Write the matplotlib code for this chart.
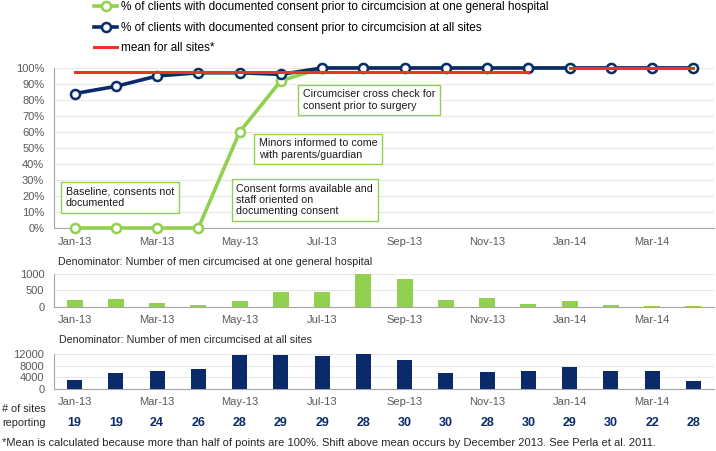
import matplotlib
matplotlib.use("Agg")
import matplotlib.pyplot as plt
from matplotlib.lines import Line2D
from matplotlib.transforms import blended_transform_factory

plt.rcParams['font.family'] = ['Liberation Sans', 'DejaVu Sans']

months = ["Jan-13", "Feb-13", "Mar-13", "Apr-13", "May-13", "Jun-13", "Jul-13", "Aug-13",
          "Sep-13", "Oct-13", "Nov-13", "Dec-13", "Jan-14", "Feb-14", "Mar-14", "Apr-14"]
hospital_pct = [0, 0, 0, 0, 60, 92, 100, 100, 100, 100, 100, 100, 100, 100, 100, 100]
all_sites_pct = [84, 88.5, 95, 97, 97, 96, 100, 100, 100, 100, 100, 100, 100, 100, 100, 100]
mean_first = 97.5   # Jan-13 .. Dec-13
mean_second = 100   # Jan-14 .. Apr-14
hospital_n = [210, 240, 110, 50, 175, 465, 450, 1010, 850, 210, 270, 90, 175, 50, 40, 20]
all_sites_n = [3200, 5600, 6300, 7000, 11500, 11600, 11200, 12000, 10000, 5600, 5800, 6000,
               7600, 6000, 6200, 2900]
sites_reporting = [19, 19, 24, 26, 28, 29, 29, 28, 30, 30, 28, 30, 29, 30, 22, 28]

GREEN = "#92D050"
NAVY = "#0B2A6A"
RED = "#EE3224"
GRAY = "#595959"
GRID = "#E8E8E8"
SPINE = "#A6A6A6"

x = list(range(len(months)))
tick_pos = x[::2]
tick_lab = months[::2]

fig = plt.figure(figsize=(7.16, 4.51), dpi=100)
ax1 = fig.add_axes([0.0754, 0.4945, 0.9218, 0.3548])
ax2 = fig.add_axes([0.0754, 0.3193, 0.9218, 0.0732])
ax3 = fig.add_axes([0.0754, 0.1375, 0.9218, 0.0776])


def style(ax, xpad):
    ax.set_xlim(-0.5, 15.5)
    for s in ["top", "right"]:
        ax.spines[s].set_visible(False)
    ax.spines["left"].set_color(SPINE)
    ax.spines["bottom"].set_color(SPINE)
    ax.tick_params(axis="both", length=0, labelsize=8, labelcolor=GRAY)
    ax.tick_params(axis="y", pad=7)
    ax.tick_params(axis="x", pad=xpad)
    ax.set_xticks(tick_pos)
    ax.set_xticklabels(tick_lab)
    ax.yaxis.grid(True, color=GRID, lw=0.8)
    ax.set_axisbelow(True)


# top chart
style(ax1, 6.5)
ax1.set_ylim(0, 100)
ax1.set_yticks(range(0, 101, 10))
ax1.set_yticklabels([f"{v}%" for v in range(0, 101, 10)])
mk = dict(marker="o", ms=6.5, mfc="white", mew=1.8)
ax1.plot(x, hospital_pct, color=GREEN, lw=2.6, mec=GREEN, clip_on=False, zorder=3, **mk)
ax1.plot(x, all_sites_pct, color=NAVY, lw=2.6, mec=NAVY, clip_on=False, zorder=4, **mk)
ax1.plot(x[:12], [mean_first] * 12, color=RED, lw=2.2, zorder=5, clip_on=False)
ax1.plot(x[12:], [mean_second] * 4, color=RED, lw=2.2, zorder=5, clip_on=False)

box = dict(boxstyle="square,pad=0.45", fc="white", ec=GREEN, lw=1)
note = dict(fontsize=7.7, va="center", ha="left", bbox=box, zorder=6, linespacing=1.15,
            color="#1a1a1a")
ax1.text(5.54, 80, "Circumciser cross check for\nconsent prior to surgery", **note)
ax1.text(4.47, 49.4, "Minors informed to come\nwith parents/guardian", **note)
ax1.text(3.92, 17.5, "Consent forms available and\nstaff oriented on\ndocumenting consent", **note)
ax1.text(-0.21, 19, "Baseline, consents not\ndocumented", **note)

handles = [
    Line2D([], [], color=GREEN, lw=2.6, mec=GREEN, **mk),
    Line2D([], [], color=NAVY, lw=2.6, mec=NAVY, **mk),
    Line2D([], [], color=RED, lw=2.2),
]
labels = ["% of clients with documented consent prior to circumcision at one general hospital",
          "% of clients with documented consent prior to circumcision at all sites",
          "mean for all sites*"]
fig.legend(handles, labels, loc="upper left", bbox_to_anchor=(0.131, 0.997), frameon=False,
           fontsize=8.5, handlelength=2.0, handletextpad=0.3, labelspacing=0.72,
           borderaxespad=0, borderpad=0)

# middle chart
style(ax2, 5.8)
ax2.set_ylim(0, 1000)
ax2.set_yticks([0, 500, 1000])
ax2.bar(x, hospital_n, width=0.39, color=GREEN, zorder=3, clip_on=False)
fig.text(0.081, 0.419, "Denominator: Number of men circumcised at one general hospital",
         fontsize=7.7, color="#262626", va="center")

# bottom chart
style(ax3, 5.8)
ax3.set_ylim(0, 12000)
ax3.set_yticks([0, 4000, 8000, 12000])
ax3.bar(x, all_sites_n, width=0.36, color=NAVY, zorder=3, clip_on=False)
fig.text(0.083, 0.246, "Denominator: Number of men circumcised at all sites",
         fontsize=7.7, color="#262626", va="center")

tr = blended_transform_factory(ax3.transData, fig.transFigure)
for xi, n in zip(x, sites_reporting):
    ax3.text(xi, 0.0621, str(n), transform=tr, ha="center", va="center",
             fontsize=9, fontweight="bold", color=NAVY)
fig.text(0.003, 0.0931, "# of sites", fontsize=7.8, color="#262626", va="center")
fig.text(0.003, 0.0621, "reporting", fontsize=7.8, color="#262626", va="center")

fig.text(0.003, 0.0177, "*Mean is calculated because more than half of points are 100%. "
         "Shift above mean occurs by December 2013. See Perla et al. 2011.",
         fontsize=8, color="#262626", va="center")

fig.savefig("out.png", dpi=100)
